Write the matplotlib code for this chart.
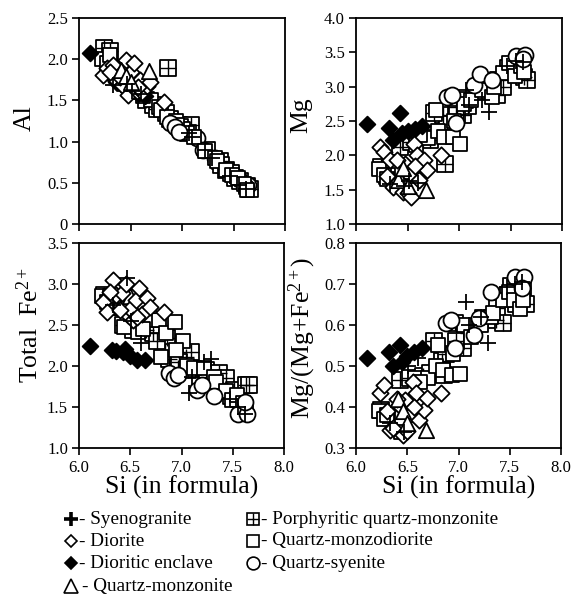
import matplotlib
matplotlib.use("Agg")
import matplotlib.pyplot as plt
import numpy as np
from matplotlib.ticker import FixedLocator, FuncFormatter

plt.rcParams['font.family'] = ['Liberation Serif', 'DejaVu Serif']
plt.rcParams['mathtext.fontset'] = 'custom'
plt.rcParams['mathtext.rm'] = 'Liberation Serif'
plt.rcParams['mathtext.it'] = 'Liberation Serif:italic'

# ---------------- data ----------------
# Syenogranite (+)
syeno_si = [6.33, 6.47, 6.51, 6.60, 7.07, 7.10, 7.22, 7.29, 7.47, 7.55, 7.62]
syeno_al = [1.69, 1.70, 1.62, 1.58, 1.10, 1.05, 0.90, 0.80, 0.58, 0.47, 0.43]
syeno_mg = [1.58, 1.55, 1.62, 1.60, 2.95, 2.73, 2.81, 2.63, 3.30, 3.38, 3.36]
syeno_fe = [2.75, 3.07, 2.55, 2.28, 1.67, 1.87, 2.05, 2.09, 1.60, 1.50, 1.42]
syeno_r = [0.36, 0.34, 0.50, 0.52, 0.655, 0.60, 0.62, 0.555, 0.693, 0.70, 0.705]

# Diorite (open diamond)
dio_si = [6.23, 6.27, 6.33, 6.36, 6.42, 6.46, 6.48, 6.50, 6.53, 6.56, 6.59, 6.61,
          6.66, 6.69, 6.83, 6.40, 6.57, 6.30]
dio_al = [1.81, 1.89, 1.93, 1.75, 1.69, 1.99, 1.57, 1.85, 1.95, 1.62, 1.75, 1.60,
          1.67, 1.72, 1.48, 1.78, 1.66, 1.84]
dio_mg = [2.12, 2.05, 1.93, 1.54, 1.62, 1.47, 1.88, 1.45, 1.40, 2.17, 2.00, 1.64,
          1.93, 1.79, 2.00, 1.93, 1.85, 1.70]
dio_fe = [2.78, 2.66, 3.05, 2.87, 2.89, 3.00, 2.62, 2.70, 2.56, 2.80, 2.95, 2.64,
          2.83, 2.72, 2.66, 2.68, 2.60, 2.90]
dio_r = [0.435, 0.453, 0.345, 0.349, 0.406, 0.332, 0.418, 0.341, 0.38, 0.462, 0.433,
         0.368, 0.393, 0.421, 0.433, 0.42, 0.40, 0.39]

# Dioritic enclave (filled diamond)
enc_si = [6.11, 6.32, 6.36, 6.43, 6.45, 6.50, 6.57, 6.64]
enc_al = [2.08, 1.78, 1.72, 1.68, 1.65, 1.62, 1.58, 1.55]
enc_mg = [2.45, 2.40, 2.22, 2.61, 2.32, 2.35, 2.38, 2.42]
enc_fe = [2.24, 2.20, 2.18, 2.17, 2.21, 2.12, 2.07, 2.07]
enc_r = [0.52, 0.535, 0.50, 0.55, 0.51, 0.525, 0.535, 0.545]

# Quartz-monzonite (open triangle)
qm_si = [6.41, 6.46, 6.50, 6.68]
qm_al = [1.87, 1.80, 1.72, 1.86]
qm_mg = [1.64, 1.82, 1.55, 1.49]
qm_fe = [2.72, 2.80, 2.85, 2.75]
qm_r = [0.42, 0.39, 0.36, 0.345]

# Porphyritic quartz-monzonite (crossed square)
pqm_si = [6.24, 6.30, 6.43, 6.53, 6.65, 6.72, 6.86, 6.84, 6.88, 6.76, 6.97, 7.04,
          7.09, 7.06, 7.24, 7.37, 7.38, 7.43, 7.48, 7.51, 7.56, 7.63, 7.66, 6.98]
pqm_al = [2.13, 2.10, 1.75, 1.62, 1.50, 1.45, 1.89, 1.35, 1.28, 1.40, 1.20, 1.15,
          1.20, 1.10, 0.90, 0.76, 0.72, 0.66, 0.62, 0.56, 0.52, 0.46, 0.42, 1.18]
pqm_mg = [1.83, 1.70, 2.12, 2.20, 2.25, 2.22, 1.88, 2.59, 2.45, 2.62, 2.70, 2.59,
          2.72, 2.80, 2.93, 2.88, 3.10, 3.00, 3.27, 3.22, 3.30, 3.14, 3.10, 2.60]
pqm_fe = [2.87, 2.80, 2.50, 2.44, 2.44, 2.40, 2.34, 2.17, 2.09, 2.30, 1.97, 2.11,
          2.17, 1.95, 1.95, 1.91, 1.79, 1.85, 1.63, 1.71, 1.60, 1.77, 1.77, 2.05]
pqm_r = [0.393, 0.38, 0.467, 0.47, 0.475, 0.483, 0.479, 0.511, 0.53, 0.56, 0.605,
         0.544, 0.58, 0.59, 0.617, 0.613, 0.641, 0.605, 0.674, 0.694, 0.65, 0.69,
         0.65, 0.56]

# Quartz-monzodiorite (open square)
qmd_si = [6.22, 6.27, 6.30, 6.44, 6.58, 6.70, 6.78, 6.80, 6.85, 6.94, 7.01, 6.95,
          7.05, 7.12, 7.22, 7.32, 7.34, 7.43, 7.49, 7.54, 7.60, 7.63, 6.62]
qmd_al = [2.00, 1.95, 2.05, 1.70, 1.60, 1.50, 1.42, 1.38, 1.30, 1.25, 1.15, 1.20,
          1.10, 1.05, 0.88, 0.80, 0.76, 0.66, 0.60, 0.56, 0.48, 0.41, 1.55]
qmd_mg = [1.80, 1.72, 1.65, 1.55, 2.15, 2.25, 2.66, 2.35, 2.27, 2.27, 2.17, 2.50,
          2.75, 2.80, 2.95, 2.85, 3.00, 3.20, 3.34, 3.15, 3.30, 3.22, 2.30]
qmd_fe = [2.85, 2.78, 2.85, 2.48, 2.42, 2.56, 2.56, 2.11, 2.40, 2.54, 2.30, 2.20,
          2.00, 1.97, 1.97, 1.87, 1.80, 1.70, 1.59, 1.65, 1.55, 1.50, 2.45]
qmd_r = [0.39, 0.37, 0.38, 0.34, 0.47, 0.47, 0.50, 0.55, 0.49, 0.479, 0.48, 0.53,
         0.60, 0.57, 0.60, 0.62, 0.63, 0.66, 0.68, 0.66, 0.64, 0.66, 0.46]

# Quartz-syenite (open circle)
qs_si = [6.88, 6.93, 6.97, 7.15, 7.20, 7.32, 7.55, 7.64, 7.62]
qs_al = [1.22, 1.18, 1.12, 1.04, 0.90, 0.80, 0.55, 0.47, 0.45]
qs_mg = [2.85, 2.88, 2.47, 3.02, 3.19, 3.10, 3.44, 3.46, 3.40]
qs_fe = [1.91, 1.85, 1.89, 1.71, 1.77, 1.63, 1.42, 1.42, 1.56]
qs_r = [0.604, 0.613, 0.545, 0.576, 0.616, 0.681, 0.718, 0.718, 0.69]

legend_col1 = ["- Syenogranite", "- Diorite", "- Dioritic enclave", "- Quartz-monzonite"]
legend_col2 = ["- Porphyritic quartz-monzonite", "- Quartz-monzodiorite", "- Quartz-syenite"]

x_ticks = [6.0, 6.5, 7.0, 7.5, 8.0]
al_ticks = [0, 0.5, 1.0, 1.5, 2.0, 2.5]
mg_ticks = [1.0, 1.5, 2.0, 2.5, 3.0, 3.5, 4.0]
fe_ticks = [1.0, 1.5, 2.0, 2.5, 3.0, 3.5]
r_ticks = [0.3, 0.4, 0.5, 0.6, 0.7, 0.8]

# ---------------- figure ----------------
W, H = 573, 600
fig = plt.figure(figsize=(W / 100, H / 100), dpi=100)


def px_axes(l, t, w, h):
    return fig.add_axes([l / W, 1 - (t + h) / H, w / W, h / H])


ax_al = px_axes(79, 18, 206, 206)
ax_mg = px_axes(356, 18, 206, 206)
ax_fe = px_axes(79, 243, 205, 205)
ax_r = px_axes(356, 243, 205, 205)

LW = 1.3


def draw(ax, key, z_tri=6, circle_under_from=None):
    vals = {
        'al': (syeno_al, dio_al, enc_al, qm_al, pqm_al, qmd_al, qs_al),
        'mg': (syeno_mg, dio_mg, enc_mg, qm_mg, pqm_mg, qmd_mg, qs_mg),
        'fe': (syeno_fe, dio_fe, enc_fe, qm_fe, pqm_fe, qmd_fe, qs_fe),
        'r': (syeno_r, dio_r, enc_r, qm_r, pqm_r, qmd_r, qs_r),
    }[key]
    sy, di, en, qm, pq, qd, qs = vals
    ax.scatter(pqm_si, pq, marker='s', s=11 ** 2, facecolors='white',
               edgecolors='black', linewidths=LW, zorder=2)
    ax.scatter(pqm_si, pq, marker='+', s=11 ** 2, c='black', linewidths=1.0, zorder=2)
    ax.scatter(qmd_si, qd, marker='s', s=10.7 ** 2, facecolors='white',
               edgecolors='black', linewidths=LW, zorder=3)
    ax.scatter(enc_si, en, marker='D', s=8.0 ** 2, facecolors='black',
               edgecolors='black', linewidths=LW, zorder=4)
    ax.scatter(dio_si, di, marker='D', s=8.3 ** 2, facecolors='white',
               edgecolors='black', linewidths=LW, zorder=5)
    ax.scatter(qm_si, qm, marker='^', s=11 ** 2, facecolors='white',
               edgecolors='black', linewidths=LW, zorder=z_tri)
    xs = np.asarray(qs_si)
    ys = np.asarray(qs)
    if circle_under_from is None:
        top = np.ones(len(xs), bool)
    else:
        top = xs < circle_under_from
    ax.scatter(xs[top], ys[top], marker='o', s=11.5 ** 2, facecolors='white',
               edgecolors='black', linewidths=LW, zorder=7)
    ax.scatter(xs[~top], ys[~top], marker='o', s=11.5 ** 2, facecolors='white',
               edgecolors='black', linewidths=LW, zorder=2.5)
    ax.scatter(syeno_si, sy, marker='+', s=11.5 ** 2, c='black', linewidths=1.3, zorder=8)


def fmt1(v, pos):
    return "0" if v == 0 else f"{v:.1f}"


def style(ax, yticks, ylim, show_x):
    ax.set_xlim(6.0, 8.0)
    ax.set_ylim(*ylim)
    ax.xaxis.set_major_locator(FixedLocator(x_ticks))
    ax.yaxis.set_major_locator(FixedLocator(yticks))
    ax.xaxis.set_major_formatter(FuncFormatter(fmt1))
    ax.yaxis.set_major_formatter(FuncFormatter(fmt1))
    ax.tick_params(direction='out', length=5, width=1.2, labelsize=12, pad=3,
                   colors='black')
    ax.tick_params(axis='x', labelbottom=show_x, pad=4)
    for sp in ax.spines.values():
        sp.set_linewidth(1.3)


draw(ax_al, 'al', circle_under_from=7.14)
draw(ax_mg, 'mg')
draw(ax_fe, 'fe', z_tri=4.5)
draw(ax_r, 'r')
style(ax_al, al_ticks, (0, 2.5), False)
style(ax_mg, mg_ticks, (1.0, 4.0), False)
style(ax_fe, fe_ticks, (1.0, 3.5), True)
style(ax_r, r_ticks, (0.3, 0.8), True)

LFS = 18.5
ax_al.set_ylabel("Al", fontsize=LFS)
ax_al.yaxis.set_label_coords(-0.21, 0.515)
ax_mg.set_ylabel("Mg", fontsize=LFS)
ax_mg.yaxis.set_label_coords(-0.214, 0.53)
ax_fe.set_ylabel(r"Total  Fe$^{\mathrm{2+}}$", fontsize=LFS)
ax_fe.yaxis.set_label_coords(-0.178, 0.60)
ax_r.set_ylabel(r"Mg/(Mg+Fe$^{\mathrm{2+}}$)", fontsize=LFS)
ax_r.yaxis.set_label_coords(-0.185, 0.537)
for ax in (ax_fe, ax_r):
    ax.set_xlabel("Si (in formula)", fontsize=LFS)
    ax.xaxis.set_label_coords(0.5, -0.135)

# ---------------- legend ----------------
lg = fig.add_axes([0, 0, 1, 1], zorder=10)
lg.set_xlim(0, W)
lg.set_ylim(H, 0)
lg.axis('off')
rows = [519, 541, 563, 586]
c1x, c2x = 71, 252.5
t1x, t2x = 79, 259
TFS = 13.8
lg.plot([c1x], [rows[0]], marker='+', ms=10, mew=2.6, color='black', ls='none')
lg.plot([c1x], [rows[1]], marker='D', ms=6.4, mew=1.2, mfc='white', mec='black', ls='none')
lg.plot([c1x], [rows[2]], marker='D', ms=6.4, mew=1.2, mfc='black', mec='black', ls='none')
lg.plot([c1x], [rows[3]], marker='^', ms=9.5, mew=1.2, mfc='white', mec='black', ls='none')
lg.plot([c2x], [rows[0]], marker='s', ms=8.6, mew=1.2, mfc='white', mec='black', ls='none')
lg.plot([c2x], [rows[0]], marker='+', ms=8.6, mew=1.0, color='black', ls='none')
lg.plot([c2x], [rows[1]], marker='s', ms=8.6, mew=1.2, mfc='white', mec='black', ls='none')
lg.plot([c2x], [rows[2]], marker='o', ms=9.2, mew=1.2, mfc='white', mec='black', ls='none')
for i, t in enumerate(legend_col1):
    lg.text(t1x + (3 if i == 3 else 0), rows[i], t, fontsize=TFS, ha='left', va='center')
for i, t in enumerate(legend_col2):
    lg.text(t2x + 2, rows[i], t, fontsize=TFS, ha='left', va='center')

fig.savefig("out.png", dpi=100)
